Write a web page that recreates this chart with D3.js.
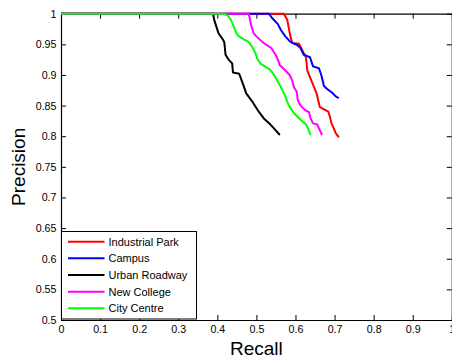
<!DOCTYPE html>
<html>
<head>
<meta charset="utf-8">
<script src="https://cdn.jsdelivr.net/npm/d3@7/dist/d3.min.js"></script>
<style>
  html, body { margin: 0; padding: 0; background: #fff; }
  svg { display: block; font-family: "Liberation Sans", Arial, sans-serif; }
</style>
</head>
<body>
<svg id="chart" width="452" height="360"></svg>
<script>
// Precision-recall curves for five datasets
const seriesNames = ["Industrial Park", "Campus", "Urban Roadway", "New College", "City Centre"];
const seriesColors = ["#ff0000", "#0000ff", "#000000", "#ff00ff", "#00ff00"];

const industrialRecall = [0, 0.570, 0.579, 0.583, 0.587, 0.592, 0.609, 0.617, 0.626, 0.628, 0.630, 0.638, 0.647, 0.654, 0.657, 0.662, 0.673, 0.684, 0.688, 0.692, 0.698, 0.703, 0.711];
const industrialPrecision = [1, 1.000, 0.990, 0.976, 0.963, 0.952, 0.951, 0.941, 0.930, 0.922, 0.908, 0.895, 0.881, 0.870, 0.862, 0.848, 0.844, 0.840, 0.832, 0.821, 0.813, 0.805, 0.798];

const campusRecall = [0, 0.532, 0.540, 0.555, 0.563, 0.574, 0.587, 0.596, 0.604, 0.613, 0.621, 0.637, 0.645, 0.660, 0.666, 0.673, 0.681, 0.694, 0.703, 0.711];
const campusPrecision = [1, 1.000, 0.993, 0.983, 0.973, 0.963, 0.954, 0.951, 0.949, 0.944, 0.933, 0.929, 0.914, 0.911, 0.900, 0.882, 0.877, 0.871, 0.865, 0.862];

const urbanRecall = [0, 0.389, 0.392, 0.399, 0.403, 0.415, 0.418, 0.421, 0.429, 0.438, 0.440, 0.456, 0.468, 0.474, 0.489, 0.506, 0.519, 0.536, 0.549, 0.560];
const urbanPrecision = [1, 1.000, 0.990, 0.976, 0.968, 0.957, 0.953, 0.933, 0.925, 0.919, 0.904, 0.902, 0.881, 0.870, 0.857, 0.840, 0.829, 0.819, 0.810, 0.802];

const collegeRecall = [0, 0.480, 0.483, 0.486, 0.493, 0.500, 0.515, 0.526, 0.538, 0.549, 0.555, 0.560, 0.573, 0.585, 0.591, 0.596, 0.603, 0.606, 0.613, 0.624, 0.635, 0.638, 0.645, 0.656, 0.660, 0.668];
const collegePrecision = [1, 1.000, 0.993, 0.982, 0.968, 0.963, 0.954, 0.949, 0.944, 0.933, 0.925, 0.916, 0.908, 0.900, 0.892, 0.880, 0.873, 0.859, 0.850, 0.843, 0.839, 0.830, 0.821, 0.819, 0.813, 0.802];

const centreRecall = [0, 0.412, 0.425, 0.435, 0.442, 0.449, 0.455, 0.468, 0.480, 0.489, 0.496, 0.502, 0.510, 0.521, 0.534, 0.543, 0.549, 0.557, 0.566, 0.574, 0.581, 0.587, 0.600, 0.613, 0.626, 0.632, 0.638];
const centrePrecision = [1, 1.000, 0.998, 0.990, 0.979, 0.968, 0.963, 0.958, 0.954, 0.946, 0.938, 0.927, 0.919, 0.914, 0.909, 0.902, 0.896, 0.887, 0.876, 0.865, 0.853, 0.846, 0.835, 0.827, 0.820, 0.813, 0.802];

const xTicks = [0, 0.1, 0.2, 0.3, 0.4, 0.5, 0.6, 0.7, 0.8, 0.9, 1];
const yTicks = [0.5, 0.55, 0.6, 0.65, 0.7, 0.75, 0.8, 0.85, 0.9, 0.95, 1];
const xTitle = "Recall";
const yTitle = "Precision";

const recallSets = [industrialRecall, campusRecall, urbanRecall, collegeRecall, centreRecall];
const precisionSets = [industrialPrecision, campusPrecision, urbanPrecision, collegePrecision, centrePrecision];

const svg = d3.select("#chart");
const plotLeft = 61, plotRight = 451.8, plotTop = 13.7, plotBottom = 320;

const x = d3.scaleLinear().domain([0, 1]).range([plotLeft, plotRight]);
const y = d3.scaleLinear().domain([0.5, 1]).range([plotBottom, plotTop]);

const fmt = d => String(+d.toFixed(2));
const tickLen = 5;

// axes: ticks point inward on all four sides
const gx = svg.append("g").attr("transform", `translate(0,${plotBottom})`)
  .call(d3.axisBottom(x).tickValues(xTicks).tickFormat(fmt).tickSizeInner(-tickLen).tickSizeOuter(0).tickPadding(5.5));
const gxTop = svg.append("g").attr("transform", `translate(0,${plotTop})`)
  .call(d3.axisTop(x).tickValues(xTicks).tickFormat("").tickSizeInner(-tickLen).tickSizeOuter(0));
const gy = svg.append("g").attr("transform", `translate(${plotLeft},0)`)
  .call(d3.axisLeft(y).tickValues(yTicks).tickFormat(fmt).tickSizeInner(-tickLen).tickSizeOuter(0).tickPadding(4.5));
const gyRight = svg.append("g").attr("transform", `translate(${plotRight},0)`)
  .call(d3.axisRight(y).tickValues(yTicks).tickFormat("").tickSizeInner(-tickLen).tickSizeOuter(0));

[gx, gxTop, gy, gyRight].forEach(g => {
  g.selectAll("path.domain").attr("stroke", "#000").attr("stroke-width", 1.2);
  g.selectAll(".tick line").attr("stroke", "#000").attr("stroke-width", 1);
  g.selectAll(".tick text").attr("fill", "#000").attr("font-size", "10.7px")
    .attr("font-family", "'Liberation Sans', Arial, sans-serif");
});

// curves
const line = d3.line().x(d => x(d[0])).y(d => y(d[1]));
seriesNames.forEach((name, i) => {
  const pts = recallSets[i].map((r, j) => [r, precisionSets[i][j]]);
  svg.append("path")
    .datum(pts)
    .attr("d", line)
    .attr("fill", "none")
    .attr("stroke", seriesColors[i])
    .attr("stroke-width", 2)
    .attr("stroke-linejoin", "round");
});

// axis titles
svg.append("text")
  .attr("x", (plotLeft + plotRight) / 2)
  .attr("y", 355)
  .attr("text-anchor", "middle")
  .attr("font-size", "19px")
  .attr("fill", "#000")
  .text(xTitle);

svg.append("text")
  .attr("transform", `translate(25,${(plotTop + plotBottom) / 2}) rotate(-90)`)
  .attr("text-anchor", "middle")
  .attr("font-size", "19px")
  .attr("fill", "#000")
  .text(yTitle);

// legend
const legend = svg.append("g");
legend.append("rect")
  .attr("x", 61.5).attr("y", 231.5)
  .attr("width", 135).attr("height", 87.5)
  .attr("fill", "#fff").attr("stroke", "#000").attr("stroke-width", 1);

seriesNames.forEach((name, i) => {
  const ly = 241.7 + i * 16.65;
  legend.append("line")
    .attr("x1", 68).attr("x2", 104.5)
    .attr("y1", ly).attr("y2", ly)
    .attr("stroke", seriesColors[i]).attr("stroke-width", 2);
  legend.append("text")
    .attr("x", 108.5).attr("y", ly + 4)
    .attr("font-size", "11px")
    .attr("fill", "#000")
    .text(name);
});
</script>
</body>
</html>
